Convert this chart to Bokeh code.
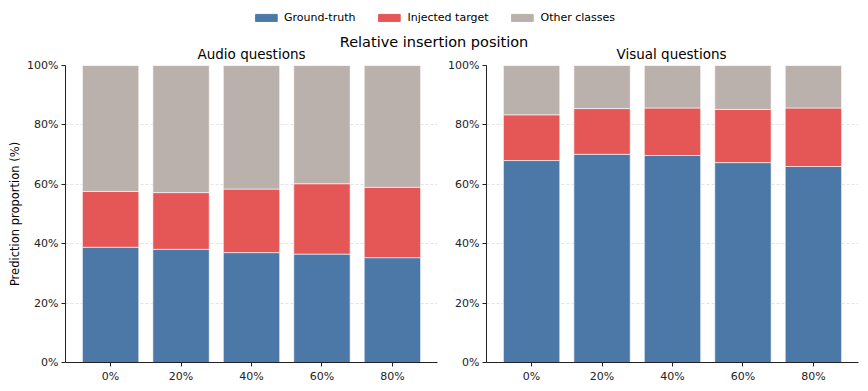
from bokeh.plotting import figure
from bokeh.models import (ColumnDataSource, Range1d, FactorRange, Legend, LegendItem,
                          Label, FixedTicker, PrintfTickFormatter)
from bokeh.layouts import column, row
from bokeh.embed import file_html
from bokeh.resources import INLINE

# ---- data (percent) ----
positions = ["0%", "20%", "40%", "60%", "80%"]
audio_ground_truth = [38.8, 38.1, 37.0, 36.5, 35.3]
audio_injected = [18.8, 19.1, 21.4, 23.7, 23.7]
audio_other = [42.4, 42.8, 41.6, 39.8, 41.0]
visual_ground_truth = [68.0, 70.1, 69.7, 67.3, 66.0]
visual_injected = [15.4, 15.4, 16.0, 17.9, 19.7]
visual_other = [16.6, 14.5, 14.3, 14.8, 14.3]
series_names = ["Ground-truth", "Injected target", "Other classes"]
panel_titles = ["Audio questions", "Visual questions"]
colors = ["#4C78A8", "#E45756", "#BAB0AC"]
y_ticks = [0, 20, 40, 60, 80, 100]

FONT = "DejaVu Sans"
FW, FH = 372, 297
HW, HH = 867, 63          # header canvas
TOP = 10                  # border above each frame
OVERLAP = 8               # row overlaps bottom of the header
L1, R1, L2, R2 = 65, 8, 40, 2


def make_panel(gt, inj, oth, left_border, right_border, ylabel=None):
    src = ColumnDataSource(dict(pos=positions, gt=gt, inj=inj, oth=oth))
    p = figure(x_range=FactorRange(factors=positions, range_padding=0.14,
                                   range_padding_units="absolute"),
               y_range=Range1d(0, 100),
               frame_width=FW, frame_height=FH,
               min_border_left=left_border, min_border_right=right_border,
               min_border_top=TOP, min_border_bottom=21,
               output_backend="svg", toolbar_location=None, title=None)
    p.vbar_stack(["gt", "inj", "oth"], x="pos", width=0.8, color=colors,
                 line_color="white", line_width=0.6, source=src)
    p.outline_line_color = None
    p.border_fill_alpha = 0
    p.background_fill_color = "white"
    p.xgrid.grid_line_color = None
    p.ygrid.grid_line_color = "#cccccc"
    p.ygrid.grid_line_alpha = 0.7
    p.ygrid.grid_line_dash = "3 2"
    p.ygrid.grid_line_width = 0.8
    p.yaxis.ticker = FixedTicker(ticks=y_ticks)
    p.yaxis.formatter = PrintfTickFormatter(format="%d%%")
    for ax in (p.xaxis[0], p.yaxis[0]):
        ax.axis_line_color = "#222222"
        ax.axis_line_width = 1
        ax.major_tick_line_color = "#222222"
        ax.major_tick_in = 0
        ax.major_tick_out = 4
        ax.minor_tick_line_color = None
        ax.major_label_text_font = FONT
        ax.major_label_text_font_size = "11px"
        ax.major_label_text_color = "#222222"
        ax.major_label_standoff = 3
    if ylabel:
        p.yaxis.axis_label = ylabel
        p.yaxis.axis_label_text_font = FONT
        p.yaxis.axis_label_text_font_size = "11.5px"
        p.yaxis.axis_label_text_font_style = "normal"
        p.yaxis.axis_label_text_color = "#000000"
        p.yaxis.axis_label_standoff = 2
    return p


p1 = make_panel(audio_ground_truth, audio_injected, audio_other, L1, R1,
                ylabel="Prediction proportion (%)")
p2 = make_panel(visual_ground_truth, visual_injected, visual_other, L2, R2)

# ---- header: legend, super title and the two panel titles ----
header = figure(width=HW, height=HH, x_range=Range1d(0, HW), y_range=Range1d(0, HH),
                min_border=0, output_backend="svg", toolbar_location=None, title=None)
header.axis.visible = False
header.grid.visible = False
header.outline_line_color = None
header.border_fill_alpha = 0
header.background_fill_alpha = 0
items = []
for name, c in zip(series_names, colors):
    # zero-size proxy glyph, only used for the legend swatch
    r = header.vbar(x=[0], top=[0], bottom=[0], width=0, fill_color=c, line_color=c)
    items.append(LegendItem(label=name, renderers=[r]))
leg = Legend(items=items, orientation="horizontal", location="top_center",
             glyph_width=27, glyph_height=9, label_standoff=5, spacing=20,
             padding=0, margin=11, border_line_color=None, background_fill_alpha=0,
             label_text_font=FONT, label_text_font_size="11px",
             label_text_color="#000000", label_height=12)
header.add_layout(leg)
header.add_layout(Label(x=HW / 2, y=13.9, text="Relative insertion position",
                        text_align="center", text_baseline="bottom",
                        text_font=FONT, text_font_size="14.5px", text_color="#000000"))
centers = [L1 + FW / 2, L1 + FW + R1 + L2 + FW / 2]
for t, cx in zip(panel_titles, centers):
    header.add_layout(Label(x=cx, y=1.5, text=t, text_align="center",
                            text_baseline="bottom", text_font=FONT,
                            text_font_size="13.5px", text_color="#000000"))

layout = column(header, row(p1, p2, margin=(-OVERLAP, 0, 0, 0)))
open("out.html", "w").write(file_html(layout, INLINE))
